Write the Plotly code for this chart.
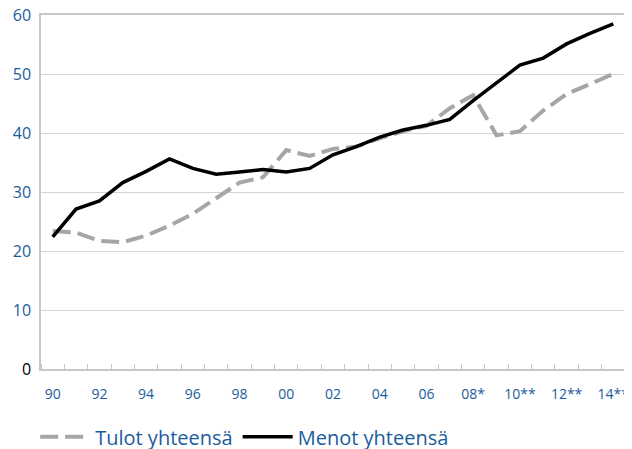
import plotly.graph_objects as go

years = ["90", "91", "92", "93", "94", "95", "96", "97", "98", "99",
         "00", "01", "02", "03", "04", "05", "06", "07", "08*", "09*",
         "10**", "11**", "12**", "13**", "14**"]
tulot = [23.4, 23.1, 21.7, 21.5, 22.6, 24.3, 26.3, 28.9, 31.6, 32.5,
         37.1, 36.1, 37.3, 37.7, 39.1, 40.3, 41.2, 44.2, 46.4, 39.6,
         40.3, 43.8, 46.6, 48.3, 50.0]
menot = [22.4, 27.1, 28.5, 31.6, 33.5, 35.6, 34.0, 33.0, 33.4, 33.8,
         33.4, 34.0, 36.3, 37.7, 39.3, 40.5, 41.3, 42.3, 45.5, 48.5,
         51.5, 52.7, 55.1, 56.9, 58.5]
y_ticks = [0, 10, 20, 30, 40, 50, 60]
series_names = ["Tulot yhteensä", "Menot yhteensä"]

blue = "#1b5c9a"
grid = "#d3d3d3"
font = "Open Sans"

idx = list(range(len(years)))
fig = go.Figure()
fig.add_trace(go.Scatter(x=idx, y=tulot, mode="lines", name=series_names[0],
                         line=dict(color="#a6a6a6", width=4, dash="18px,7px")))
fig.add_trace(go.Scatter(x=idx, y=menot, mode="lines", name=series_names[1],
                         line=dict(color="#000000", width=3.5)))

ytext = ["<span style='color:black'>0</span>"] + [str(v) for v in y_ticks[1:]]

fig.update_layout(
    width=632, height=449,
    margin=dict(l=33, r=15, t=7, b=88),
    paper_bgcolor="white", plot_bgcolor="white",
    font=dict(family=font, size=16, color=blue),
    showlegend=True,
    legend=dict(orientation="h", xref="container", x=0.043, xanchor="left",
                yref="container", y=0.045, yanchor="middle",
                font=dict(size=20, color=blue, family=font),
                itemwidth=50, bgcolor="rgba(0,0,0,0)"),
    xaxis=dict(range=[-0.5, len(years) - 0.5], automargin=False,
               tickvals=idx[::2], ticktext=years[::2],
               ticks="", showgrid=False, zeroline=False,
               showline=True, linecolor="#c8c8c8", linewidth=1.5, mirror=True,
               ticklabelstandoff=11, ticklabeloverflow="allow",
               minor=dict(tickvals=[i - 0.5 for i in range(len(years) + 1)],
                          ticks="inside", ticklen=5, tickcolor="#c8c8c8", tickwidth=1,
                          showgrid=False),
               tickfont=dict(size=14, color=blue, family=font)),
    yaxis=dict(range=[0, 60], tickvals=y_ticks, ticktext=ytext, automargin=False,
               showgrid=True, gridcolor=grid, gridwidth=1.2, zeroline=False,
               showline=True, linecolor="#c8c8c8", linewidth=1.5, mirror=True,
               ticks="", ticklabelstandoff=5, ticklabeloverflow="allow",
               tickfont=dict(size=16, color=blue, family=font)),
)

fig.write_html("out.html")
